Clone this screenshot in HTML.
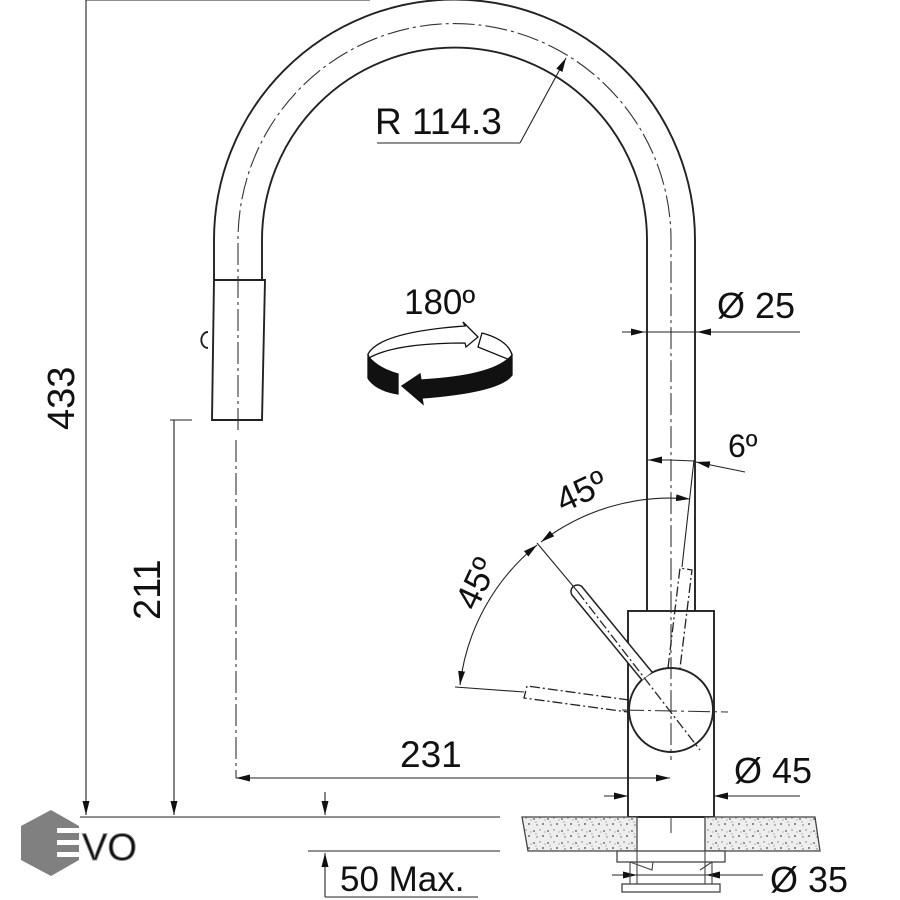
<!DOCTYPE html>
<html><head><meta charset="utf-8"><style>
html,body{margin:0;padding:0;background:#fff}
svg{display:block}
text{font-family:"Liberation Sans",sans-serif;fill:#111}
</style></head><body>
<svg width="900" height="900" viewBox="0 0 900 900" xmlns="http://www.w3.org/2000/svg">
<defs>
<marker id="a" viewBox="0 0 14 7" refX="14" refY="3.5" markerWidth="14" markerHeight="7" orient="auto-start-reverse" markerUnits="userSpaceOnUse"><path d="M0,0L14,3.5L0,7z" fill="#111"/></marker>
<pattern id="sp" width="14" height="12" patternUnits="userSpaceOnUse">
<rect width="14" height="12" fill="#eeeeee"/>
<circle cx="2" cy="3" r="0.9" fill="#555"/><circle cx="8" cy="2" r="0.7" fill="#777"/><circle cx="11" cy="8" r="0.9" fill="#444"/><circle cx="5" cy="9" r="0.7" fill="#666"/><circle cx="13" cy="4" r="0.6" fill="#888"/><circle cx="4" cy="6" r="0.6" fill="#888"/>
</pattern>
</defs>
<g fill="none" stroke="#222" stroke-width="1.9">
<path d="M214,280 L214,240 A240,240 0 0 1 695,240 L695,611"/>
<path d="M262,280 L262,240 A192,192 0 0 1 647,240 L647,611"/>
<path d="M214,280 L265,280 L262,420 L212,420 Z"/>
<path d="M208,332 A5,6 0 0 0 208,348"/>
<rect x="628" y="611" width="86" height="206"/>
<circle cx="671" cy="710" r="42" fill="#fff"/>
</g>
<g fill="none" stroke="#333" stroke-width="1.1" stroke-dasharray="22,4,3,4">
<path d="M238,430 L238,240 A216,216 0 0 1 671,240 L671,760"/>
<line x1="236" y1="440" x2="236" y2="778"/>
<line x1="622" y1="710" x2="728" y2="712"/>
</g>
<g fill="#fff" stroke="#222" stroke-width="1.5">
<path d="M642,680 L572,595 A6,6 0 0 1 583,588 L652,672"/>
</g>
<g fill="none" stroke="#222" stroke-width="1.3" stroke-dasharray="10,3,2,3">
<path d="M668,668 L680,568 L692,570 L680,668"/>
<path d="M629,700 L527,686 L524,698 L628,712"/>
<line x1="578" y1="592" x2="700" y2="750"/>
</g>
<g fill="none" stroke="#222" stroke-width="1.1">
<path d="M460,685 A212,212 0 0 1 537,545" marker-start="url(#a)" marker-end="url(#a)"/>
<path d="M541,542 A212,212 0 0 1 690,499" marker-start="url(#a)" marker-end="url(#a)"/>
<line x1="455" y1="687" x2="524" y2="692"/>
<line x1="537" y1="543" x2="578" y2="592"/>
<line x1="694" y1="460" x2="682" y2="567"/>
<line x1="648" y1="460" x2="670" y2="460" marker-start="url(#a)"/>
<line x1="670" y1="460" x2="694" y2="461"/>
<line x1="745" y1="472" x2="696" y2="462" marker-end="url(#a)"/>
<line x1="377" y1="143" x2="520" y2="143"/>
<line x1="520" y1="143" x2="566" y2="58" marker-end="url(#a)"/>
<line x1="622" y1="332" x2="645" y2="332" marker-end="url(#a)"/>
<line x1="800" y1="332" x2="697" y2="332" marker-end="url(#a)"/>
<line x1="645" y1="332" x2="697" y2="332"/>
<line x1="86" y1="0" x2="370" y2="0"/>
<line x1="86" y1="0" x2="86" y2="815" marker-end="url(#a)"/>
<line x1="80" y1="817" x2="500" y2="817"/>
<line x1="170" y1="420" x2="192" y2="420"/>
<line x1="174" y1="420" x2="174" y2="815" marker-end="url(#a)"/>
<line x1="236" y1="778" x2="670" y2="778" marker-start="url(#a)" marker-end="url(#a)"/>
<line x1="604" y1="796" x2="628" y2="796" marker-end="url(#a)"/>
<line x1="800" y1="796" x2="714" y2="796" marker-end="url(#a)"/>
<line x1="325" y1="792" x2="325" y2="815" marker-end="url(#a)"/>
<line x1="308" y1="851" x2="500" y2="851"/>
<line x1="325" y1="897" x2="325" y2="853" marker-end="url(#a)"/>
<line x1="325" y1="897" x2="478" y2="897"/>
<line x1="612" y1="875" x2="637" y2="875" marker-end="url(#a)"/>
<line x1="763" y1="875" x2="706" y2="875" marker-end="url(#a)"/>
<line x1="637" y1="875" x2="706" y2="875"/>
</g>
<g stroke="#444" stroke-width="1.3">
<path d="M522,817 L637,817 L637,851 L528,851 Z" fill="url(#sp)"/>
<path d="M705,817 L815,817 L820,851 L705,851 Z" fill="url(#sp)"/>
<g fill="#fff">
<rect x="617" y="851" width="108" height="11"/>
<rect x="622" y="884" width="98" height="8"/>
</g>
<g fill="none" stroke-width="1.1">
<line x1="637" y1="851" x2="637" y2="884"/><line x1="705" y1="851" x2="705" y2="884"/>
<line x1="630" y1="862" x2="630" y2="884"/><line x1="712" y1="862" x2="712" y2="884"/>
<path d="M630,862 L652,870 L653,862"/><path d="M712,862 L700,870"/>
<line x1="671" y1="817" x2="671" y2="833"/>
</g>
</g>
<g stroke="#111" stroke-width="1.3">
<path d="M368,354 Q380,332 465,326 L463,322 L478,337 L466,347 L465,343 Q395,343 369,358 Z" fill="#fff"/>
<path d="M482,333 Q508,340 512,355 L510,360 L478,347 Z" fill="#fff"/>
<path d="M368,356 L368,378 Q375,390 398,394 L398,374 Q377,368 368,356 Z" fill="#111"/>
<path d="M512,355 L512,375 Q500,392 422,398 L423,404 L402,386 L420,374 L421,380 Q495,376 512,355 Z" fill="#111"/>
</g>
<text x="375" y="134" font-size="37">R 114.3</text>
<text x="404" y="314" font-size="35">180º</text>
<text x="717" y="318" font-size="36">Ø 25</text>
<text x="728" y="457" font-size="32">6º</text>
<text x="400" y="767" font-size="37">231</text>
<text x="734" y="783" font-size="36">Ø 45</text>
<text x="770" y="892" font-size="36">Ø 35</text>
<text x="340" y="891" font-size="35">50 Max.</text>
<text transform="translate(74,430) rotate(-90)" font-size="38">433</text>
<text transform="translate(160,620) rotate(-90)" font-size="38">211</text>
<text transform="translate(563,513) rotate(-25)" font-size="35">45º</text>
<text transform="translate(476,612) rotate(-65)" font-size="35">45º</text>
<path d="M51,810 L79,826 L79,860 L51,876 L21,860 L21,826 Z" fill="#808080"/>
<g fill="#fff"><rect x="57" y="828" width="27" height="5"/><rect x="57" y="840" width="27" height="5"/><rect x="57" y="852" width="27" height="5"/></g>
<text x="82" y="860" font-size="38" fill="#fff" stroke="#888" stroke-width="1">VO</text>
</svg>
</body></html>
